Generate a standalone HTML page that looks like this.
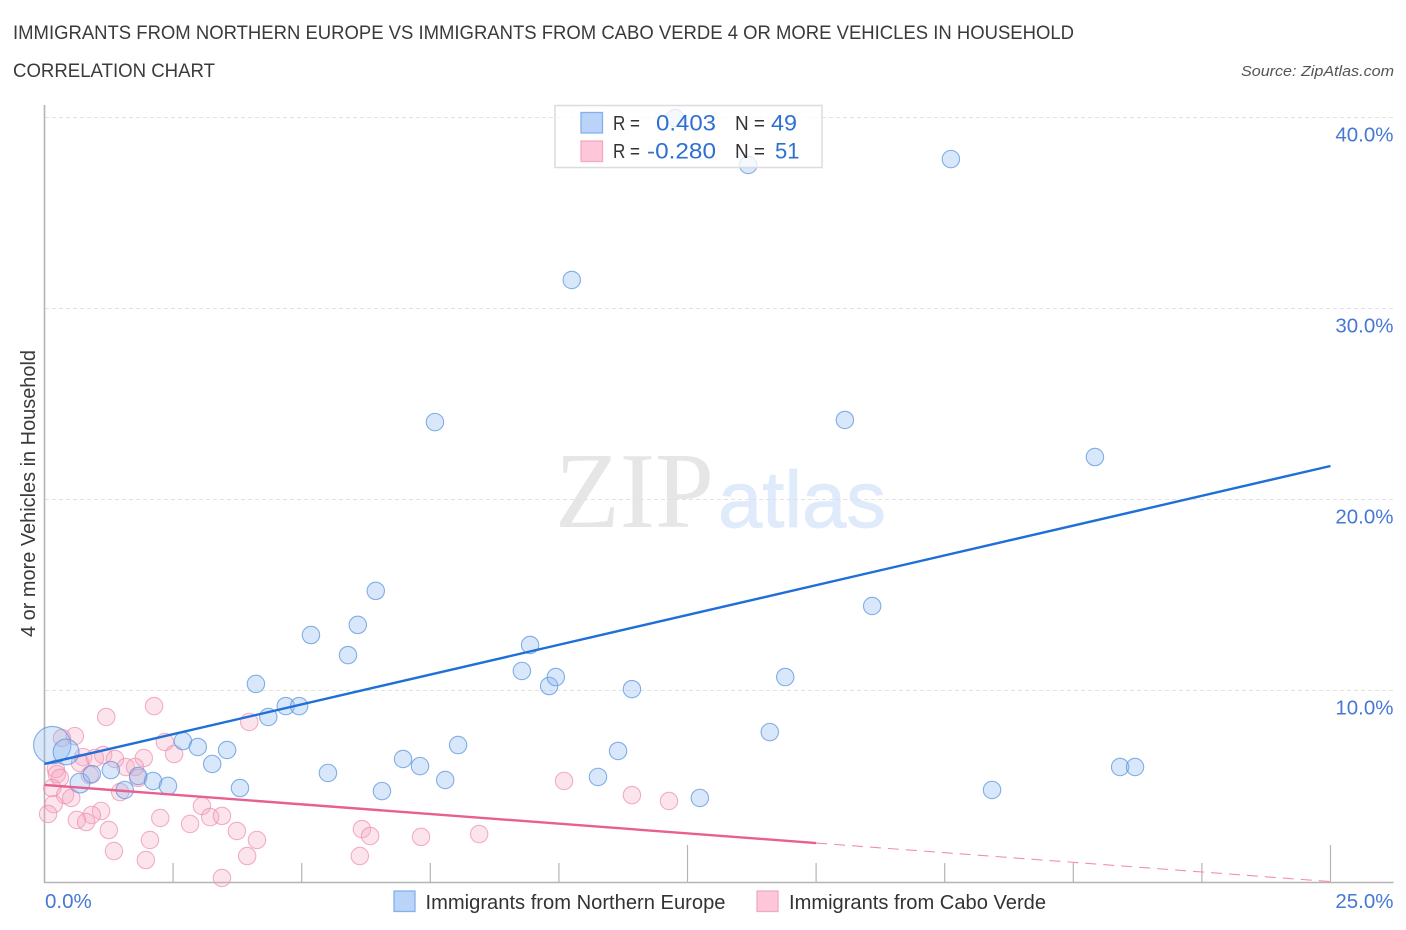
<!DOCTYPE html>
<html>
<head>
<meta charset="utf-8">
<title>Correlation Chart</title>
<style>
html,body{margin:0;padding:0;background:#fff;}
svg{display:block;font-family:"Liberation Sans",sans-serif;}
</style>
</head>
<body>
<svg id="chart" xmlns="http://www.w3.org/2000/svg" width="1406" height="930" viewBox="0 0 1406 930">
<rect x="0" y="0" width="1406" height="930" fill="#fff"/>
<text x="13" y="39" font-size="19" fill="#3a3a3a" textLength="1061" lengthAdjust="spacingAndGlyphs">IMMIGRANTS FROM NORTHERN EUROPE VS IMMIGRANTS FROM CABO VERDE 4 OR MORE VEHICLES IN HOUSEHOLD</text>
<text x="13" y="77" font-size="19" fill="#3a3a3a" textLength="202" lengthAdjust="spacingAndGlyphs">CORRELATION CHART</text>
<text x="1241" y="76" font-size="15" font-style="italic" fill="#555" textLength="153" lengthAdjust="spacingAndGlyphs">Source: ZipAtlas.com</text>
<g id="watermark">
<text x="555" y="527" font-family="'Liberation Serif',serif" font-size="108" fill="#e6e6e6" textLength="159" lengthAdjust="spacingAndGlyphs">ZIP</text>
<text x="718" y="527" font-family="'Liberation Sans',sans-serif" font-size="80" fill="#dfeafa" stroke="#dfeafa" stroke-width="0.8" textLength="168" lengthAdjust="spacingAndGlyphs">atlas</text>
</g>
<g id="grid"></g>
<g id="axes"></g>
<g id="pinkPoints"></g>
<g id="bluePoints"></g>
<g id="trends"></g>
<text transform="translate(35,493.5) rotate(-90)" text-anchor="middle" font-size="20" fill="#3a3a3a" textLength="287" lengthAdjust="spacingAndGlyphs">4 or more Vehicles in Household</text>
<g id="statsLegend">
<rect x="555" y="105.5" width="267" height="62" fill="#fff" fill-opacity="0.75" stroke="#dcdcdc" stroke-width="1.5"/>
<rect x="581" y="112.5" width="21.5" height="20.5" fill="#b9d4f8" stroke="#86b0ea" stroke-width="1.3"/>
<rect x="581" y="141" width="21.5" height="20.5" fill="#fdc6d9" stroke="#f3a9c2" stroke-width="1.3"/>
<text x="613" y="130" font-size="20" fill="#333" textLength="27" lengthAdjust="spacingAndGlyphs">R =</text>
<text x="656" y="130.5" font-size="22" fill="#2f6fd0" textLength="60" lengthAdjust="spacingAndGlyphs">0.403</text>
<text x="735" y="130" font-size="20" fill="#333" textLength="30" lengthAdjust="spacingAndGlyphs">N =</text>
<text x="771" y="130.5" font-size="22" fill="#2f6fd0" textLength="26" lengthAdjust="spacingAndGlyphs">49</text>
<text x="613" y="158" font-size="20" fill="#333" textLength="27" lengthAdjust="spacingAndGlyphs">R =</text>
<text x="647" y="158.5" font-size="22" fill="#2f6fd0" textLength="69" lengthAdjust="spacingAndGlyphs">-0.280</text>
<text x="735" y="158" font-size="20" fill="#333" textLength="30" lengthAdjust="spacingAndGlyphs">N =</text>
<text x="775" y="158.5" font-size="22" fill="#2f6fd0">51</text>
</g>
<g id="bottomLegend">
<rect x="394" y="891" width="21" height="20.5" fill="#b9d4f8" stroke="#86b0ea" stroke-width="1.3"/>
<text x="425.5" y="909" font-size="20" fill="#333" textLength="300" lengthAdjust="spacingAndGlyphs">Immigrants from Northern Europe</text>
<rect x="757" y="891" width="21" height="20.5" fill="#fdc6d9" stroke="#f3a9c2" stroke-width="1.3"/>
<text x="789" y="909" font-size="20" fill="#333" textLength="257" lengthAdjust="spacingAndGlyphs">Immigrants from Cabo Verde</text>
</g>
</svg>
<script>
const blueX = [0.15,0.42,0.69,0.92,1.29,1.56,1.82,2.11,2.40,2.69,2.98,3.26,3.55,3.80,4.11,4.35,4.69,4.95,5.18,5.51,5.90,6.09,6.44,6.56,6.97,7.30,7.79,8.04,7.59,9.28,9.44,9.81,9.94,10.25,10.76,11.15,11.42,12.26,12.74,13.68,14.10,14.40,15.56,16.09,17.62,18.42,20.42,20.91,21.20];
const blueY = [7.17,6.81,5.18,5.65,5.86,4.82,5.55,5.29,5.03,7.38,7.07,6.18,6.91,4.92,10.37,8.64,9.21,9.21,12.93,5.71,11.88,13.46,15.24,4.76,6.44,6.07,5.34,7.17,24.08,11.05,12.41,10.26,10.73,31.52,5.50,6.86,10.10,40.00,4.40,37.54,7.85,10.73,24.19,14.45,37.85,4.82,22.25,6.02,6.02];
const blueWeights = [4.6,2.2,1.3];
const pinkX = [2.13,1.20,0.59,0.34,2.34,2.52,1.93,0.75,1.14,1.37,0.69,0.98,1.58,1.76,0.22,0.24,0.30,1.82,0.88,0.15,1.47,0.40,0.52,0.18,0.07,3.06,1.10,0.92,0.63,0.81,3.22,3.45,2.25,2.83,1.25,3.74,4.13,2.05,3.94,1.35,1.97,3.45,3.98,6.17,6.33,7.32,6.13,8.45,10.10,11.42,12.14];
const pinkY = [9.21,8.64,7.64,7.54,7.33,6.70,6.49,6.54,6.65,6.44,6.23,6.49,6.02,6.02,5.92,5.65,5.45,5.45,5.60,4.92,4.71,4.55,4.40,4.08,3.56,3.98,3.72,3.51,3.25,3.14,3.40,3.46,3.35,3.04,2.72,2.67,2.20,2.20,1.36,1.62,1.15,0.21,8.38,2.77,2.41,2.36,1.36,2.51,5.29,4.55,4.24];
const blueTrendX = [0,25];
const blueTrendY = [6.18,21.78];
const pinkSolidX = [0,15];
const pinkSolidY = [5.08,2.04];
const pinkDashX = [15,25];
const pinkDashY = [2.04,0.02];
const yTicks = [10,20,30,40];
const yTickLabels = ["10.0%","20.0%","30.0%","40.0%"];
const xTicks = [2.5,5,7.5,10,12.5,15,17.5,20,22.5,25];
const xMajorTicks = [12.5,25];
const xEndValues = [0,25];
const xEndLabels = ["0.0%","25.0%"];

const NS = "http://www.w3.org/2000/svg";
const sx = v => 44.5 + v * 51.44;
const sy = v => 882 - v * 19.1;
const AXIS_RIGHT = 1393.5;
const BASE_R = 8.7;

function make(parent, tag, attrs) {
  const el = document.createElementNS(NS, tag);
  for (const k in attrs) el.setAttribute(k, attrs[k]);
  parent.appendChild(el);
  return el;
}

const grid = document.getElementById("grid");
const axes = document.getElementById("axes");
const bluePts = document.getElementById("bluePoints");
const pinkPts = document.getElementById("pinkPoints");
const trends = document.getElementById("trends");

yTicks.forEach((t, i) => {
  const g = make(grid, "line", {x1: 45, x2: AXIS_RIGHT, y1: sy(t) - 0.5, y2: sy(t) - 0.5, stroke: "#e2e2e2", "stroke-width": 1, "stroke-dasharray": "4 3"});
  
  
  const lab = make(axes, "text", {x: AXIS_RIGHT, y: sy(t) + 23.5, "text-anchor": "end", "font-size": 20.5, fill: "#4678d4"});
  lab.textContent = yTickLabels[i];
  
  
});

const yAxis = make(axes, "line", {x1: 44.5, x2: 44.5, y1: 105, y2: 883, stroke: "#b4b4b4", "stroke-width": 1.6});


const xAxis = make(axes, "line", {x1: 44, x2: AXIS_RIGHT, y1: 882.5, y2: 882.5, stroke: "#b4b4b4", "stroke-width": 1.6});



xTicks.forEach(t => {
  const top = xMajorTicks.includes(t) ? 845 : 863;
  const tk = make(axes, "line", {x1: sx(t), x2: sx(t), y1: top, y2: 882, stroke: "#b4b4b4", "stroke-width": 1.2});
  
  
});

xEndValues.forEach((v, i) => {
  const anchorLeft = i === 0;
  const lab = make(axes, "text", {x: anchorLeft ? 45 : AXIS_RIGHT, y: 908, "text-anchor": anchorLeft ? "start" : "end", "font-size": 20.5, fill: "#4678d4"});
  lab.textContent = xEndLabels[i];
  
  
});

pinkX.forEach((v, i) => {
  const c = make(pinkPts, "circle", {cx: sx(v), cy: sy(pinkY[i]), r: BASE_R, fill: "#f4a6c0", "fill-opacity": 0.3, stroke: "#ee8fb0", "stroke-opacity": 0.7, "stroke-width": 1.1});
  
  
});

blueX.forEach((v, i) => {
  const w = i < blueWeights.length ? blueWeights[i] : 1;
  const c = make(bluePts, "circle", {cx: sx(v), cy: sy(blueY[i]), r: BASE_R * Math.sqrt(w), fill: "#8fb9ee", "fill-opacity": 0.35, stroke: "#5d95de", "stroke-opacity": 0.75, "stroke-width": 1.1});
  
  
});

const pinkDash = make(trends, "line", {x1: sx(pinkDashX[0]), y1: sy(pinkDashY[0]), x2: sx(pinkDashX[1]), y2: sy(pinkDashY[1]), stroke: "#f08fb2", "stroke-width": 1.1, "stroke-dasharray": "11 7"});


const pinkSolid = make(trends, "line", {x1: sx(pinkSolidX[0]), y1: sy(pinkSolidY[0]), x2: sx(pinkSolidX[1]), y2: sy(pinkSolidY[1]), stroke: "#e8608f", "stroke-width": 2.4});


const blueLine = make(trends, "line", {x1: sx(blueTrendX[0]), y1: sy(blueTrendY[0]), x2: sx(blueTrendX[1]), y2: sy(blueTrendY[1]), stroke: "#1f6fd8", "stroke-width": 2.4});


</script>
</body>
</html>
